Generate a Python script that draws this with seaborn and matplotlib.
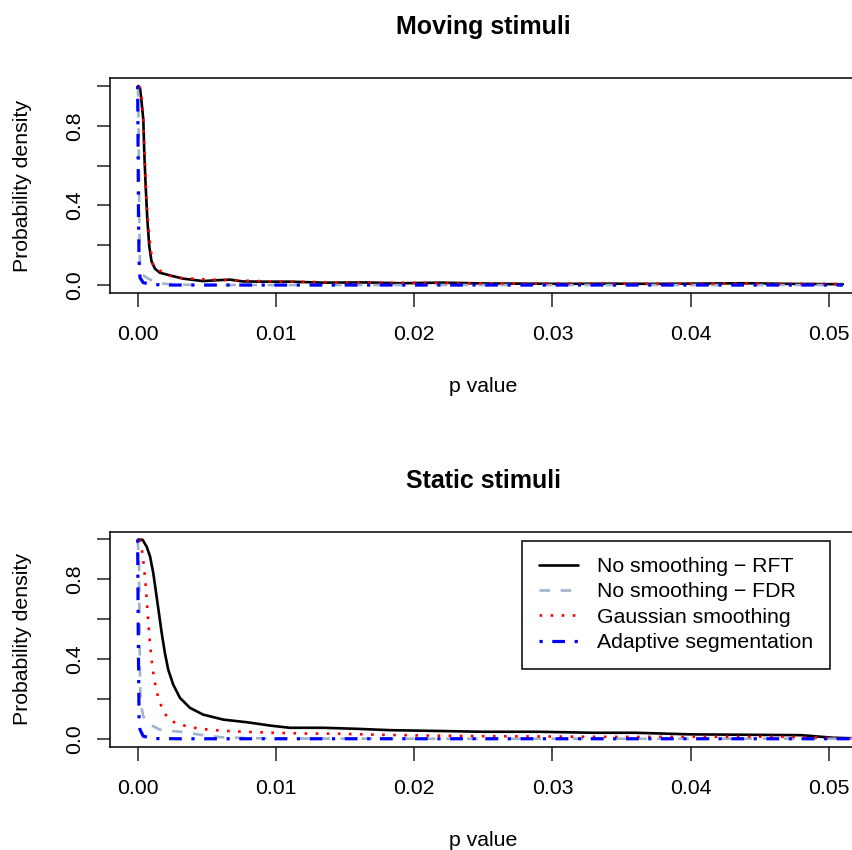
import matplotlib
matplotlib.use('Agg')
import matplotlib.pyplot as plt
import seaborn as sns


# ============================================
# Data
# p value vs normalised probability density
# ============================================
x_ticks = [0.00, 0.01, 0.02, 0.03, 0.04, 0.05]
x_tick_labels = ['0.00', '0.01', '0.02', '0.03', '0.04', '0.05']
y_ticks = [0.0, 0.2, 0.4, 0.6, 0.8, 1.0]
y_tick_labels = ['0.0', '', '0.4', '', '0.8', '']

series_names = [
    'No smoothing \u2212 RFT',
    'No smoothing \u2212 FDR',
    'Gaussian smoothing',
    'Adaptive segmentation',
]

# --- Moving stimuli ---
moving_rft_p = [0.00004, 0.00017, 0.00029, 0.00041, 0.00048, 0.00058, 0.0007,
                0.00084, 0.001, 0.00125, 0.0016, 0.0023, 0.0033, 0.0047,
                0.0057, 0.0067, 0.0076, 0.0091, 0.011, 0.0134, 0.0165, 0.019,
                0.022, 0.025, 0.028, 0.031, 0.034, 0.037, 0.040, 0.044,
                0.047, 0.051]
moving_rft_d = [1.0, 0.99, 0.914, 0.83, 0.663, 0.496, 0.329,
                0.195, 0.12, 0.082, 0.062, 0.049, 0.032, 0.02,
                0.024, 0.027, 0.018, 0.017, 0.017, 0.012, 0.013, 0.009,
                0.012, 0.008, 0.007, 0.006, 0.007, 0.006, 0.007, 0.009,
                0.006, 0.004]

moving_fdr_p = [0.00002, 0.00007, 0.0001, 0.00013, 0.00017, 0.00029, 0.00065,
                0.001, 0.0014, 0.002, 0.003, 0.005, 0.01, 0.02, 0.03, 0.04,
                0.051]
moving_fdr_d = [1.0, 0.8, 0.5, 0.25, 0.095, 0.054, 0.037,
                0.024, 0.012, 0.006, 0.002, 0.0, 0.0, 0.0, 0.0, 0.0,
                0.0]

moving_gauss_p = [0.0001, 0.00025, 0.00036, 0.00048, 0.00065, 0.00084, 0.001,
                  0.00113, 0.00137, 0.002, 0.0027, 0.0035, 0.005, 0.0067,
                  0.0085, 0.011, 0.014, 0.017, 0.02, 0.024, 0.028, 0.032,
                  0.036, 0.04, 0.044, 0.048, 0.051]
moving_gauss_d = [1.0, 0.96, 0.897, 0.68, 0.41, 0.245, 0.15,
                  0.095, 0.082, 0.056, 0.037, 0.034, 0.028, 0.025,
                  0.02, 0.017, 0.014, 0.012, 0.011, 0.009, 0.008, 0.008,
                  0.007, 0.007, 0.008, 0.006, 0.005]

moving_adapt_p = [0.0, 0.00003, 0.00006, 0.0001, 0.00017, 0.0004, 0.001,
                  0.002, 0.01, 0.02, 0.03, 0.04, 0.051]
moving_adapt_d = [1.0, 0.7, 0.35, 0.12, 0.037, 0.012, 0.003,
                  0.0, 0.0, 0.0, 0.0, 0.0, 0.0]

# --- Static stimuli ---
static_rft_p = [0.00004, 0.00036, 0.00065, 0.0009, 0.00113, 0.00137, 0.00154,
                0.00174, 0.00197, 0.00221, 0.00257, 0.00306, 0.00378,
                0.00474, 0.0062, 0.00788, 0.0096, 0.011, 0.0134, 0.0158,
                0.0183, 0.021, 0.025, 0.029, 0.033, 0.036, 0.040, 0.044,
                0.048, 0.0503, 0.052]
static_rft_d = [1.0, 0.998, 0.964, 0.914, 0.831, 0.714, 0.63,
                0.53, 0.43, 0.347, 0.272, 0.205, 0.155,
                0.121, 0.096, 0.083, 0.066, 0.055, 0.055, 0.05,
                0.043, 0.04, 0.035, 0.035, 0.03, 0.03, 0.022, 0.02,
                0.018, 0.005, 0.002]

static_fdr_p = [0.0, 0.0001, 0.00014, 0.00017, 0.00022, 0.0004, 0.0009,
                0.0016, 0.0026, 0.0034, 0.0045, 0.006, 0.008, 0.012, 0.02,
                0.03, 0.04, 0.052]
static_fdr_d = [1.0, 0.88, 0.547, 0.297, 0.18, 0.113, 0.071,
                0.046, 0.038, 0.033, 0.02, 0.008, 0.003, 0.001, 0.0,
                0.0, 0.0, 0.0]

static_gauss_p = [0.00012, 0.00029, 0.0004, 0.00055, 0.00067, 0.00079,
                  0.00091, 0.00106, 0.00125, 0.00149, 0.00181, 0.00221,
                  0.00282, 0.00354, 0.0045, 0.00595, 0.0074, 0.0098, 0.0122,
                  0.0146, 0.0175, 0.021, 0.025, 0.03, 0.035, 0.04, 0.045,
                  0.048, 0.0503, 0.052]
static_gauss_d = [1.0, 0.956, 0.898, 0.798, 0.681, 0.564,
                  0.463, 0.363, 0.28, 0.205, 0.146, 0.1,
                  0.076, 0.063, 0.05, 0.041, 0.036, 0.03, 0.026,
                  0.025, 0.02, 0.016, 0.013, 0.011, 0.009, 0.01, 0.01,
                  0.009, 0.003, 0.001]

static_adapt_p = [0.0, 0.00004, 0.0001, 0.00017, 0.0004, 0.0011, 0.003,
                  0.01, 0.02, 0.03, 0.04, 0.052]
static_adapt_d = [1.0, 0.547, 0.113, 0.046, 0.013, 0.001, 0.0,
                  0.0, 0.0, 0.0, 0.0, 0.0]


# ============================================
# Styles (R-like: lty 1, 2, 3, 4)
# ============================================
line_styles = [
    dict(color='black',   lw=1.9, linestyle='-'),
    dict(color='#9FB3CD', lw=1.9, linestyle=(0, (4, 4))),
    dict(color='#FF0000', lw=1.9, linestyle=(0, (1, 3.2))),
    dict(color='#0000FF', lw=2.3, linestyle=(0, (1, 3, 4, 3))),
]

sns.set_style('ticks')
plt.rcParams['font.family'] = ['Liberation Sans', 'DejaVu Sans']
plt.rcParams['text.color'] = 'black'
plt.rcParams['axes.labelcolor'] = 'black'
plt.rcParams['axes.linewidth'] = 1.1
plt.rcParams['xtick.major.width'] = 1.1
plt.rcParams['ytick.major.width'] = 1.1
plt.rcParams['xtick.color'] = '#222222'
plt.rcParams['ytick.color'] = '#222222'
plt.rcParams['xtick.labelcolor'] = 'black'
plt.rcParams['ytick.labelcolor'] = 'black'

FS = 15.3


def draw_panel(ax, title, curves, show_legend=False):
    for (p, d), name, style in zip(curves, series_names, line_styles):
        sns.lineplot(
            x=p, y=d, ax=ax,
            estimator=None, sort=False,
            label=name if show_legend else None,
            legend=False,
            **style
        )

    ax.set_xlim(-0.002, 0.052)
    ax.set_ylim(-0.04, 1.04)
    ax.set_xticks(x_ticks)
    ax.set_xticklabels(x_tick_labels)
    ax.set_yticks(y_ticks)
    ax.set_yticklabels(y_tick_labels, rotation=90, va='center')
    ax.tick_params(axis='x', length=10, pad=13, labelsize=FS)
    ax.tick_params(axis='y', length=9.5, pad=9, labelsize=FS)
    for s in ax.spines.values():
        s.set_visible(True)
        s.set_color('black')

    ax.set_title(title, fontsize=18, fontweight='bold', pad=31.5, color='black')
    ax.set_xlabel('p value', fontsize=FS, va='baseline')
    ax.xaxis.set_label_coords(0.5, -0.459)
    ax.set_ylabel('Probability density', fontsize=FS)
    ax.yaxis.set_label_coords(-0.104, 0.5)

    if show_legend:
        leg = ax.legend(
            loc='upper right', bbox_to_anchor=(0.964, 0.958),
            borderaxespad=0, frameon=True, fancybox=False,
            edgecolor='black', framealpha=1, fontsize=FS,
            handlelength=1.85, handletextpad=0.9,
            borderpad=0.78, labelspacing=0.3
        )
        leg.get_frame().set_linewidth(1.1)


fig = plt.figure(figsize=(8.53, 8.5), dpi=100)
ax_top = fig.add_axes([110 / 853, 0.6553, 746.7 / 853, 0.2529])
ax_bot = fig.add_axes([110 / 853, 0.1215, 746.7 / 853, 0.2532])

draw_panel(ax_top, 'Moving stimuli', [
    (moving_rft_p, moving_rft_d),
    (moving_fdr_p, moving_fdr_d),
    (moving_gauss_p, moving_gauss_d),
    (moving_adapt_p, moving_adapt_d),
])
draw_panel(ax_bot, 'Static stimuli', [
    (static_rft_p, static_rft_d),
    (static_fdr_p, static_fdr_d),
    (static_gauss_p, static_gauss_d),
    (static_adapt_p, static_adapt_d),
], show_legend=True)

fig.savefig('out.png', dpi=100, facecolor='white')
plt.close(fig)
